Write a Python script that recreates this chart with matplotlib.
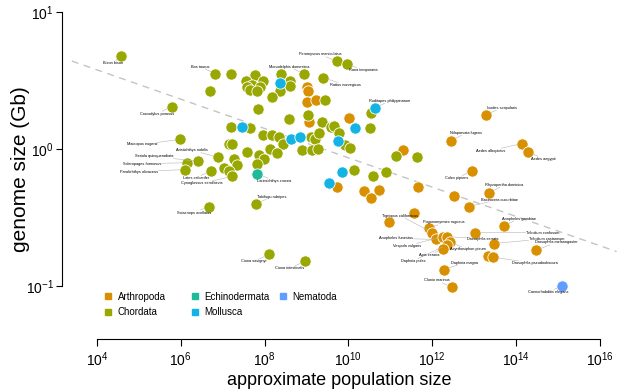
import numpy as np
import matplotlib.pyplot as plt
from matplotlib.lines import Line2D
from matplotlib.ticker import NullLocator

# values, stored as log10(population size) and log10(genome size in Gb)
arthropoda_names = ['', '', '', '', '', '', '', '', '', '', '', '',
                    'Ixodes scapularis', 'Nilaparvata lugens', 'Aedes albopictus', 'Aedes aegypti',
                    'Culex pipiens', '', 'Rhyzopertha dominica', 'Bactrocera cucurbitae', '', '',
                    'Anopheles gambiae', 'Pogonomyrmex rugosus', 'Tigriopus californicus',
                    'Anopheles funestus', 'Vespula vulgaris', 'Drosophila serrata', 'Acyrthosiphon pisum',
                    'Daphnia pulex', 'Apis cerana', 'Tribolium confusum', 'Tribolium castaneum', '',
                    'Drosophila pseudoobscura', 'Drosophila melanogaster', 'Daphnia magna', 'Clunio marinus']
arthropoda_log_pop = [9.01, 9.04, 9.01, 9.23, 9.06, 10.01, 11.30, 9.73, 10.37, 10.73, 10.54, 11.66,
                      13.28, 12.45, 14.14, 14.29, 12.95, 12.52, 13.36, 12.88, 11.57, 10.97,
                      13.71, 11.92, 12.00, 12.09, 12.26, 12.35, 12.42, 12.35, 12.26, 13.02, 13.47, 13.33,
                      13.45, 14.48, 12.28, 12.47]
arthropoda_log_genome = [0.45, 0.42, 0.34, 0.36, 0.20, 0.23, -0.01, -0.28, -0.31, -0.30, -0.36, -0.28,
                         0.25, 0.06, 0.04, -0.02, -0.16, -0.34, -0.32, -0.42, -0.47, -0.53,
                         -0.56, -0.58, -0.61, -0.66, -0.64, -0.64, -0.68, -0.70, -0.73, -0.61, -0.69, -0.78,
                         -0.79, -0.74, -0.88, -1.01]

chordata_names = ['Bison bison', 'Bos taurus', '', '', 'Crocodylus porosus', '', '', '', '', '', '', '', '',
                  '', '', '', '', '', '', 'Monodelphis domestica', 'Peromyscus maniculatus',
                  'Rana temporaria', 'Rattus norvegicus', '', '', '', '', '', '', '', '', '', '', '',
                  '', '', '', '', '', '', '', '', '', '', '', '', '', '', 'Macropus eugenii', '', '', '', '',
                  'Aristichthys nobilis', '', '', '', '', 'Seriola quinqueradiata', 'Scleropages formosus',
                  'Paralichthys olivaceus', 'Lates calcarifer', '', '', 'Cynoglossus semilaevis',
                  'Sciaenops ocellatus', 'Takifugu rubripes', 'Ciona savignyi', 'Ciona intestinalis',
                  '', '', '', '', '']
chordata_log_pop = [4.57, 6.82, 7.20, 6.70, 5.79, 7.77, 7.56, 7.96, 7.70, 7.58, 7.89, 7.65, 7.82,
                    8.39, 8.61, 8.61, 8.37, 8.18, 7.84, 8.94, 9.73,
                    9.97, 9.39, 9.44, 8.58, 9.04, 9.37, 10.54, 7.20, 7.65, 7.96, 8.18, 8.34, 8.44,
                    9.11, 9.20, 9.30, 9.58, 9.66, 9.78, 10.52, 9.92, 10.04, 8.89, 9.13, 9.27, 7.15, 7.22,
                    5.98, 8.13, 8.30, 7.87, 7.58,
                    6.89, 7.27, 7.34, 7.99, 7.82, 6.41, 6.15,
                    6.10, 6.72, 7.03, 7.15, 7.22,
                    6.67, 7.79, 8.10, 8.96,
                    11.14, 11.64, 10.13, 10.59, 10.90]
chordata_log_genome = [0.68, 0.55, 0.55, 0.42, 0.31, 0.54, 0.50, 0.50, 0.47, 0.45, 0.45, 0.43, 0.42,
                       0.55, 0.50, 0.46, 0.42, 0.38, 0.29, 0.55, 0.64,
                       0.62, 0.52, 0.36, 0.22, 0.25, 0.20, 0.26, 0.16, 0.15, 0.10, 0.10, 0.09, 0.04,
                       0.09, 0.07, 0.12, 0.16, 0.17, 0.12, 0.15, 0.03, 0.01, -0.01, -0.01, 0.00, 0.04, 0.04,
                       0.07, 0.00, -0.03, -0.04, -0.02,
                       -0.06, -0.07, -0.12, -0.07, -0.11, -0.09, -0.10,
                       -0.15, -0.16, -0.14, -0.16, -0.20,
                       -0.42, -0.40, -0.77, -0.82,
                       -0.05, -0.06, -0.15, -0.20, -0.17]

echinodermata_names = ['Larimichthys crocea']
echinodermata_log_pop = [7.82]
echinodermata_log_genome = [-0.18]

mollusca_names = ['', '', '', '', '', '', 'Ruditapes philippinarum', '', '']
mollusca_log_pop = [7.46, 8.37, 8.63, 8.84, 9.75, 10.16, 10.63, 9.85, 9.54]
mollusca_log_genome = [0.16, 0.48, 0.07, 0.09, 0.06, 0.15, 0.30, -0.17, -0.25]

nematoda_names = ['Caenorhabditis elegans']
nematoda_log_pop = [15.10]
nematoda_log_genome = [-1.00]

# dashed trend line: log10(genome) = intercept + slope * log10(pop)
fit_intercept = 1.006
fit_slope = -0.107

# label placement (pixels right, pixels down from the point)
label_offsets = {
    'Bison bison': (-8, 7), 'Bos taurus': (-15, -7), 'Crocodylus porosus': (-15, 7),
    'Macropus eugenii': (-38, 5), 'Monodelphis domestica': (-15, -7),
    'Peromyscus maniculatus': (-17, -7), 'Rana temporaria': (16, 6), 'Rattus norvegicus': (23, 7),
    'Ruditapes philippinarum': (15, -7), 'Aristichthys nobilis': (-26, -7),
    'Seriola quinqueradiata': (-44, -5), 'Scleropages formosus': (-45, 1),
    'Paralichthys olivaceus': (-46, 2), 'Lates calcarifer': (-15, 7),
    'Cynoglossus semilaevis': (-30, 7), 'Sciaenops ocellatus': (-15, 6),
    'Larimichthys crocea': (17, 7), 'Takifugu rubripes': (16, -7), 'Ciona savignyi': (-15, 7),
    'Ciona intestinalis': (-15, 7), 'Ixodes scapularis': (16, -7), 'Nilaparvata lugens': (15, -8),
    'Aedes albopictus': (-31, 7), 'Aedes aegypti': (15, 7), 'Culex pipiens': (-15, 7),
    'Rhyzopertha dominica': (15, -8), 'Bactrocera cucurbitae': (30, -7),
    'Tigriopus californicus': (-32, -17), 'Pogonomyrmex rugosus': (15, -6),
    'Anopheles funestus': (-40, -1), 'Vespula vulgaris': (-36, 9), 'Apis cerana': (-14, 6),
    'Daphnia pulex': (-34, 16), 'Acyrthosiphon pisum': (18, 7), 'Drosophila serrata': (36, 2),
    'Tribolium confusum': (68, 0), 'Tribolium castaneum': (53, -5),
    'Drosophila melanogaster': (20, -8), 'Drosophila pseudoobscura': (42, 6),
    'Daphnia magna': (21, -7), 'Clunio marinus': (-15, -7), 'Anopheles gambiae': (15, -7),
    'Caenorhabditis elegans': (-14, 6),
}

if __name__ == '__main__':
    plt.rcParams['font.family'] = ['Liberation Sans', 'DejaVu Sans']
    plt.rcParams['mathtext.default'] = 'regular'

    groups = [
        ('Arthropoda', '#D89000', arthropoda_names, arthropoda_log_pop, arthropoda_log_genome),
        ('Chordata', '#98A800', chordata_names, chordata_log_pop, chordata_log_genome),
        ('Echinodermata', '#1DBB98', echinodermata_names, echinodermata_log_pop, echinodermata_log_genome),
        ('Mollusca', '#13B4E4', mollusca_names, mollusca_log_pop, mollusca_log_genome),
        ('Nematoda', '#619CFF', nematoda_names, nematoda_log_pop, nematoda_log_genome),
    ]

    fig = plt.figure(figsize=(6.17, 3.89), dpi=100)
    ax = fig.add_axes([62 / 617, 50 / 389, 555 / 617, 339 / 389])
    ax.set_xscale('log')
    ax.set_yscale('log')
    ax.set_xlim(10 ** 3.165, 10 ** 16.41)
    ax.set_ylim(10 ** -1.387, 10 ** 1.088)

    # trend line
    lx = np.array([3.4, 16.4])
    ax.plot(10 ** lx, 10 ** (fit_intercept + fit_slope * lx), color='#c4c4c4',
            lw=1.0, dashes=(5, 4), zorder=1)

    for phylum, color, names, lp, lg in groups:
        x = 10 ** np.array(lp)
        y = 10 ** np.array(lg)
        ax.scatter(x, y, s=66, color=color, edgecolors='white', linewidths=0.6, zorder=3)
        for name, xi, yi in zip(names, x, y):
            if not name:
                continue
            dx, dy = label_offsets[name]
            ax.annotate(name, xy=(xi, yi), xytext=(dx, -dy), textcoords='offset pixels',
                        fontsize=2.8, ha='center', va='center', zorder=4,
                        bbox=dict(boxstyle='square,pad=0.1', fc='none', ec='none'),
                        arrowprops=dict(arrowstyle='-', color='#b5b5b5', lw=0.4,
                                        shrinkA=0, shrinkB=3.5))

    # legend: three columns placed like the original
    colors = {g[0]: g[1] for g in groups}
    columns = [(['Arthropoda', 'Chordata'], 0.0757),
               (['Echinodermata', 'Mollusca'], 0.2324),
               (['Nematoda'], 0.3910)]
    for i, (entries, xpos) in enumerate(columns):
        handles = [Line2D([], [], marker='s', ls='', color=colors[p], markersize=5, label=p)
                   for p in entries]
        leg = ax.legend(handles=handles, loc='upper left', bbox_to_anchor=(xpos, 0.139),
                        frameon=False, fontsize=7, handlelength=0.8, handletextpad=0.6,
                        labelspacing=0.55, borderaxespad=0, borderpad=0)
        if i < len(columns) - 1:
            ax.add_artist(leg)

    for side in ['top', 'right']:
        ax.spines[side].set_visible(False)
    ax.spines['left'].set_bounds(0.1, 10)
    ax.spines['bottom'].set_bounds(1e4, 1e16)
    ax.set_xticks(10.0 ** np.arange(4, 17, 2))
    ax.set_yticks([0.1, 1, 10])
    ax.xaxis.set_minor_locator(NullLocator())
    ax.yaxis.set_minor_locator(NullLocator())
    ax.tick_params(axis='x', direction='out', length=5, width=0.8, labelsize=10)
    ax.tick_params(axis='y', direction='out', length=4, width=0.8, labelsize=10, pad=2)

    ax.set_xlabel('approximate population size', fontsize=13, labelpad=2)
    ax.set_ylabel('genome size (Gb)', fontsize=15)
    ax.yaxis.set_label_coords(-0.058, 0.5)

    plt.savefig('out.png', dpi=100)
